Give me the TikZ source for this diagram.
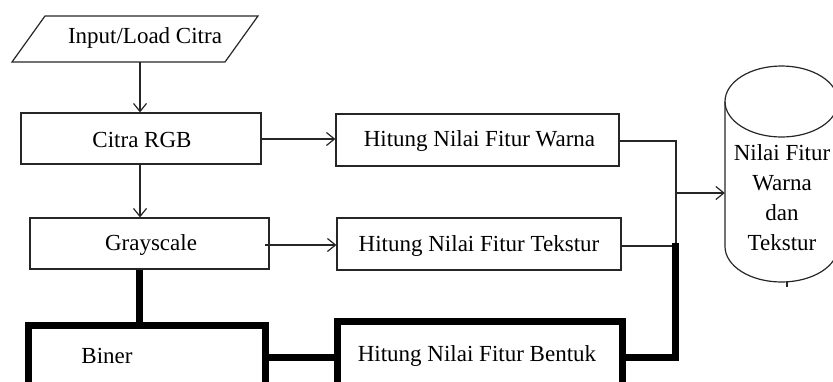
\documentclass[tikz,border=0pt]{standalone}
\usepackage{fontspec}
\setmainfont{Liberation Serif}
\usetikzlibrary{arrows.meta}
\begin{document}
\begin{tikzpicture}[x=1pt,y=-1pt,
  thin/.style={line width=1.2pt,draw=black!85},
  thickl/.style={line width=7pt,draw=black},
  arr/.style={thin,-{Straight Barb[length=8pt,width=13pt,line width=1.2pt]}},
  box/.style={thin,rectangle,inner sep=0pt},
  tbox/.style={thickl,rectangle,inner sep=0pt},
  txt/.style={inner sep=0pt,font=\fontsize{23}{30}\selectfont,align=center},
  ghost/.style={rectangle,inner sep=0pt}]
\useasboundingbox (0,0) rectangle (833,381);
\clip (0,0) rectangle (833,381);
% input parallelogram
\draw[thin] (45,16) -- (258,16) -- (225,62) -- (12,62) -- cycle;
\node[ghost,minimum width=200pt,minimum height=46pt] (input) at (135,39) {};
\node[txt] (inputt) at (145,38) {Input/Load Citra};
% boxes
\node[box,minimum width=240pt,minimum height=51pt] (rgb) at (141,138.5) {};
\node[txt] (rgbt) at (142,140) {Citra RGB};
\node[box,minimum width=239pt,minimum height=51pt] (gray) at (149.5,243.5) {};
\node[txt] (grayt) at (151,244.5) {Grayscale};
\node[box,minimum width=283pt,minimum height=52pt] (warna) at (477.5,140) {};
\node[txt] (warnat) at (479.5,141) {Hitung Nilai Fitur Warna};
\node[box,minimum width=284pt,minimum height=52pt] (tekstur) at (479,244) {};
\node[txt] (teksturt) at (479,246) {Hitung Nilai Fitur Tekstur};
\node[tbox,minimum width=237pt,minimum height=120pt] (biner) at (146.5,385) {};
\node[txt] (binert) at (107,356) {Biner};
\node[tbox,minimum width=285pt,minimum height=120pt] (bentuk) at (479.5,381) {};
\node[txt] (bentukt) at (477,356) {Hitung Nilai Fitur Bentuk};
% cylinder
\node[ghost,minimum width=113pt,minimum height=216pt] (db) at (781.5,174) {};
\draw[thin] (781.5,101.5) ellipse [x radius=56.5pt, y radius=35.5pt];
\draw[thin] (725,101.5) -- (725,246.5) arc[start angle=180, end angle=360, x radius=56.5pt, y radius=35.5pt] -- (838,101.5);
\draw[thin] (787,282) -- (787,287);
\node[txt] (dbt) at (782,198) {Nilai Fitur\\Warna\\dan\\Tekstur};
% connectors
\coordinate (j1) at (676,141);
\coordinate (j2) at (676,193);
\coordinate (j3) at (676,246);
\coordinate (k1) at (675,243);
\coordinate (k2) at (675,357);
\draw[arr] (input.south -| 140,0) -- (rgb.north -| 140,0);
\draw[arr] (rgb.south -| 140,0) -- (gray.north -| 140,0);
\draw[arr] (rgb.east |- 0,139) -- (warna.west |- 0,139);
\draw[arr] (265,245) -- (tekstur.west |- 0,245);
\draw[thin] (warna.east |- j1) -- (j1) -- (j3) -- (tekstur.east |- j3);
\draw[arr] (j2) -- (db.west |- j2);
\draw[thickl] (gray.south -| 139,0) -- (biner.north -| 139,0);
\draw[thickl] (biner.east |- 0,357) -- (bentuk.west |- 0,357);
\draw[thickl] (bentuk.east |- k2) -- (k2) -- (k1);
\end{tikzpicture}
\end{document}
